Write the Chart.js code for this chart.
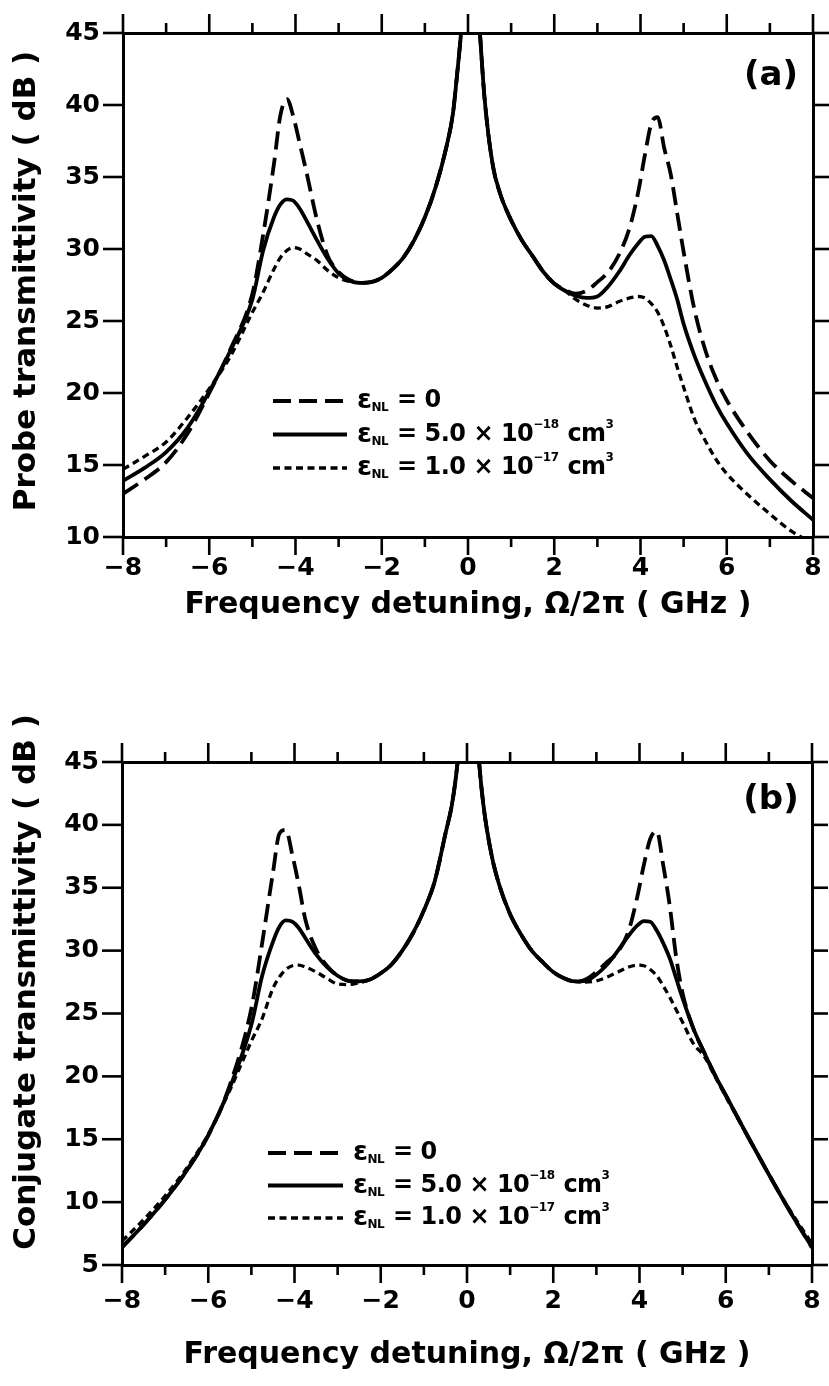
<!DOCTYPE html>
<html>
<head>
<meta charset="utf-8">
<script src="https://cdn.jsdelivr.net/npm/chart.js@4.4.1/dist/chart.umd.min.js"></script>
<style>
  html, body { margin: 0; padding: 0; background: #fff; }
  .panel { position: absolute; left: 0; width: 829px; }
  #wrapA { top: 0; height: 690px; }
  #wrapB { top: 690px; height: 696px; }
  canvas { display: block; }
</style>
</head>
<body>
<div class="panel" id="wrapA"><canvas id="probe" width="829" height="690"></canvas></div>
<div class="panel" id="wrapB"><canvas id="conj" width="829" height="696"></canvas></div>
<script>
// Frequency detuning Ω/2π (GHz) at which every curve is sampled
const detuning = [-8, -7.5, -7, -6.5, -6, -5.5, -5, -4.75, -4.5, -4.35, -4.2, -4.05, -3.9, -3.75, -3.5, -3.25,
  -3, -2.75, -2.5, -2.25, -2, -1.75, -1.5, -1.25, -1, -0.75, -0.5, -0.35, -0.25, -0.15, -0.08, 0.05,
  0.18, 0.27, 0.38, 0.57, 0.75, 1, 1.25, 1.5, 1.75, 2, 2.25, 2.5, 2.75, 3, 3.25, 3.5,
  3.75, 3.95, 4.1, 4.25, 4.4, 4.55, 4.7, 4.85, 5, 5.25, 5.5, 5.75, 6, 6.5, 7, 7.5, 8];

// (a) probe transmittivity, dB
const probeZero = [13.0, 14.0, 15.2, 17.2, 20.0, 23.1, 26.9, 31.0, 35.9, 39.3, 40.4, 39.2, 37.3, 35.4, 32.0, 29.5,
  28.4, 27.85, 27.65, 27.7, 28.0, 28.6, 29.4, 30.6, 32.2, 34.3, 37.1, 39.4, 42.2, 45.5, 49, 55,
  49, 45.3, 40.6, 35.9, 33.8, 32.0, 30.6, 29.5, 28.4, 27.6, 27.15, 26.9, 27.1, 27.7, 28.4, 29.6,
  31.5, 34.0, 36.5, 38.7, 39.15, 37.0, 35.2, 32.5, 29.8, 25.8, 23.0, 21.0, 19.5, 17.2, 15.3, 13.9, 12.7];
const probeMid = [13.9, 14.8, 15.9, 17.6, 20.1, 23.0, 26.5, 29.9, 32.2, 33.1, 33.45, 33.35, 32.8, 32.0, 30.6, 29.3,
  28.3, 27.8, 27.65, 27.7, 28.0, 28.6, 29.4, 30.6, 32.2, 34.3, 37.1, 39.4, 42.2, 45.5, 49, 55,
  49, 45.3, 40.6, 35.9, 33.8, 32.0, 30.6, 29.5, 28.4, 27.6, 27.1, 26.75, 26.6, 26.7, 27.4, 28.4,
  29.6, 30.4, 30.85, 30.9, 30.2, 29.2, 27.9, 26.5, 24.8, 22.6, 20.8, 19.2, 17.9, 15.7, 14.0, 12.5, 11.2];
const probeHigh = [14.7, 15.6, 16.6, 18.3, 20.3, 22.6, 25.6, 27.0, 28.6, 29.4, 29.9, 30.1, 30.0, 29.7, 29.2, 28.5,
  28.0, 27.75, 27.65, 27.7, 28.0, 28.6, 29.4, 30.6, 32.2, 34.3, 37.1, 39.4, 42.2, 45.5, 49, 55,
  49, 45.3, 40.6, 35.9, 33.8, 32.0, 30.6, 29.5, 28.4, 27.6, 27.1, 26.5, 26.1, 25.9, 26.0, 26.35,
  26.6, 26.7, 26.6, 26.2, 25.6, 24.6, 23.3, 21.8, 20.4, 18.2, 16.7, 15.4, 14.4, 12.9, 11.6, 10.4, 9.6];

// (b) conjugate transmittivity, dB
const conjZero = [6.4, 8.2, 10.2, 12.5, 15.3, 19.3, 25.4, 30.6, 36.2, 39.3, 39.6, 37.6, 35.2, 32.5, 30.1, 28.8,
  28.0, 27.6, 27.55, 27.7, 28.2, 28.9, 30.0, 31.4, 33.2, 35.5, 39.3, 41.6, 44.0, 47.5, 51, 57,
  51, 45.5, 41.6, 37.6, 35.2, 32.9, 31.3, 30.0, 29.1, 28.3, 27.8, 27.55, 27.7, 28.3, 29.1, 29.9,
  31.6, 34.3, 36.8, 38.9, 39.5, 36.8, 33.6, 29.5, 26.6, 23.8, 21.9, 20.1, 18.5, 15.3, 12.2, 9.2, 6.4];
const conjMid = [6.4, 8.2, 10.2, 12.5, 15.3, 19.1, 24.1, 28.0, 30.7, 31.9, 32.4, 32.3, 31.8, 31.0, 29.7, 28.7,
  28.0, 27.6, 27.55, 27.7, 28.2, 28.9, 30.0, 31.4, 33.2, 35.5, 39.3, 41.6, 44.0, 47.5, 51, 57,
  51, 45.5, 41.6, 37.6, 35.2, 32.9, 31.3, 30.0, 29.1, 28.3, 27.8, 27.55, 27.6, 28.1, 28.9, 30.0,
  31.2, 32.0, 32.35, 32.3, 31.6, 30.6, 29.4, 27.8, 26.2, 23.8, 21.9, 20.1, 18.5, 15.3, 12.2, 9.2, 6.4];
const conjHigh = [6.9, 8.6, 10.5, 12.7, 15.4, 18.9, 22.8, 24.6, 27.0, 27.9, 28.5, 28.8, 28.85, 28.7, 28.3, 27.8,
  27.35, 27.3, 27.45, 27.7, 28.2, 28.9, 30.0, 31.4, 33.2, 35.5, 39.3, 41.6, 44.0, 47.5, 51, 57,
  51, 45.5, 41.6, 37.6, 35.2, 32.9, 31.3, 30.0, 29.1, 28.3, 27.8, 27.55, 27.5, 27.6, 27.9, 28.3,
  28.7, 28.85, 28.8, 28.5, 28.0, 27.2, 26.3, 25.3, 24.3, 22.6, 21.6, 20.0, 18.4, 15.3, 12.2, 9.3, 6.7];

// Axis ranges and tick steps
const xRange = [-8, 8];
const xMajorStep = 2;
const probeRange = [10, 45];
const conjRange = [5, 45];
const yStep = 5;

// Text
const xTitle = 'Frequency detuning, Ω/2π ( GHz )';
const probeTitle = 'Probe transmittivity ( dB )';
const conjTitle = 'Conjugate transmittivity ( dB )';
const legendRows = [
  [['ε', 'greek'], ['NL', 'sub'], [' = 0', 'base']],
  [['ε', 'greek'], ['NL', 'sub'], [' = 5.0 × 10', 'base'], ['−18', 'sup'], [' cm', 'base'], ['3', 'sup']],
  [['ε', 'greek'], ['NL', 'sub'], [' = 1.0 × 10', 'base'], ['−17', 'sup'], [' cm', 'base'], ['3', 'sup']]
];

const FONT = "'DejaVu Sans', sans-serif";
const INK = '#000';

const styles = [
  { borderWidth: 3.8, borderDash: [18, 8] },
  { borderWidth: 3.8, borderDash: [] },
  { borderWidth: 3.3, borderDash: [7, 4.5] }
];

const fmtTick = v => (v < 0 ? '\u2212' + Math.abs(v) : String(v));

// Outward tick marks on all four sides of the frame
const frameTicks = {
  id: 'frameTicks',
  afterDraw(chart) {
    const { ctx, chartArea: ca } = chart;
    ctx.save();
    ctx.strokeStyle = INK;
    ctx.lineWidth = 2.6;
    ctx.lineCap = 'butt';
    for (const id of ['x', 'x2', 'y', 'y2']) {
      const s = chart.scales[id];
      for (const t of s.ticks) {
        const p = s.getPixelForValue(t.value);
        const major = id[0] === 'y' || Math.abs(t.value % xMajorStep) < 1e-9;
        ctx.beginPath();
        if (s.position === 'bottom') {
          const len = major ? 18 : 10;
          ctx.moveTo(p, ca.bottom); ctx.lineTo(p, ca.bottom + len);
        } else if (s.position === 'top') {
          const len = major ? 19 : 10;
          ctx.moveTo(p, ca.top); ctx.lineTo(p, ca.top - len);
        } else if (s.position === 'left') {
          ctx.moveTo(ca.left, p); ctx.lineTo(ca.left - 20, p);
        } else {
          ctx.moveTo(ca.right, p); ctx.lineTo(ca.right + 16, p);
        }
        ctx.stroke();
      }
    }
    ctx.restore();
  }
};

const runStyle = {
  greek: { size: 27, dy: 0 },
  base: { size: 24, dy: 0 },
  sub: { size: 12, dy: 7 },
  sup: { size: 12, dy: -10 }
};

function drawRuns(ctx, runs, x, y) {
  for (const [text, kind] of runs) {
    const st = runStyle[kind];
    ctx.font = `bold ${st.size}px ${FONT}`;
    ctx.fillText(text, x, y + st.dy);
    x += ctx.measureText(text).width + (kind === 'sub' || kind === 'sup' ? 1 : 0);
  }
}

// Y title, panel tag and legend
const panelNotes = {
  id: 'panelNotes',
  afterDraw(chart, args, o) {
    const { ctx } = chart;
    ctx.save();
    ctx.fillStyle = INK;
    ctx.strokeStyle = INK;

    ctx.save();
    ctx.translate(o.titleX, o.titleY);
    ctx.rotate(-Math.PI / 2);
    ctx.font = `bold 31px ${FONT}`;
    ctx.textAlign = 'center';
    ctx.textBaseline = 'middle';
    ctx.fillText(o.title, 0, 0);
    ctx.restore();

    ctx.font = `bold 34px ${FONT}`;
    ctx.textAlign = 'center';
    ctx.textBaseline = 'middle';
    ctx.fillText(o.tag, o.tagX, o.tagY);

    ctx.textAlign = 'left';
    ctx.textBaseline = 'middle';
    if ('letterSpacing' in ctx) ctx.letterSpacing = '-0.5px';
    chart.data.datasets.forEach((ds, i) => {
      const y = o.legendY + i * o.legendGap;
      ctx.save();
      ctx.lineWidth = ds.borderWidth;
      ctx.setLineDash(ds.borderDash || []);
      ctx.beginPath();
      ctx.moveTo(o.legendX, y);
      ctx.lineTo(o.legendX + o.sampleLen, y);
      ctx.stroke();
      ctx.restore();
      drawRuns(ctx, legendRows[i], o.legendX + o.sampleLen + 10, y);
    });
    ctx.restore();
  }
};

function makePanel(canvasId, series, yRange, frame, notes) {
  const tickFont = { family: FONT, size: 25, weight: 'bold' };
  const border = { display: true, color: INK, width: 3 };
  const hidden = { display: false };
  return new Chart(document.getElementById(canvasId), {
    type: 'line',
    data: {
      datasets: series.map((vals, i) => ({
        data: detuning.map((x, k) => ({ x, y: vals[k] })),
        borderColor: INK,
        borderWidth: styles[i].borderWidth,
        borderDash: styles[i].borderDash,
        pointRadius: 0,
        fill: false,
        cubicInterpolationMode: 'monotone'
      }))
    },
    options: {
      responsive: false,
      animation: false,
      events: [],
      layout: { padding: 0 },
      plugins: { legend: hidden, tooltip: { enabled: false }, panelNotes: notes },
      scales: {
        x: {
          type: 'linear', position: 'bottom', min: xRange[0], max: xRange[1],
          grid: { display: false, drawTicks: true, tickLength: frame.xTickGap },
          border,
          ticks: {
            stepSize: 1, autoSkip: false, maxRotation: 0, padding: frame.xLabelPad,
            color: INK, font: tickFont,
            callback: v => (v % xMajorStep === 0 ? fmtTick(v) : '')
          },
          title: {
            display: true, text: xTitle, color: INK,
            font: { family: FONT, size: 30, weight: 'bold' },
            padding: { top: 0, bottom: frame.xTitlePad }
          },
          afterFit: s => { s.height = frame.bottom; }
        },
        x2: {
          type: 'linear', position: 'top', min: xRange[0], max: xRange[1],
          grid: { display: false }, border,
          ticks: { stepSize: 1, display: false },
          afterFit: s => { s.height = frame.top; }
        },
        y: {
          type: 'linear', position: 'left', min: yRange[0], max: yRange[1],
          grid: { display: false, drawTicks: true, tickLength: 20 },
          border,
          ticks: { stepSize: yStep, padding: 3, color: INK, font: tickFont, callback: fmtTick },
          afterFit: s => { s.width = frame.left; }
        },
        y2: {
          type: 'linear', position: 'right', min: yRange[0], max: yRange[1],
          grid: { display: false }, border,
          ticks: { stepSize: yStep, display: false },
          afterFit: s => { s.width = frame.right; }
        }
      }
    },
    plugins: [frameTicks, panelNotes]
  });
}

makePanel('probe', [probeZero, probeMid, probeHigh], probeRange,
  { left: 123, right: 16, top: 33, bottom: 153, xTickGap: 14, xLabelPad: 2, xTitlePad: 67 },
  { title: probeTitle, titleX: 27, titleY: 281, tag: '(a)', tagX: 771, tagY: 76,
    legendX: 273, legendY: 401, legendGap: 33.5, sampleLen: 74 });

makePanel('conj', [conjZero, conjMid, conjHigh], conjRange,
  { left: 122, right: 17, top: 72, bottom: 121, xTickGap: 18, xLabelPad: 3, xTitlePad: 13 },
  { title: conjTitle, titleX: 27, titleY: 292, tag: '(b)', tagX: 771, tagY: 110,
    legendX: 268, legendY: 463, legendGap: 32.5, sampleLen: 75 });
</script>
</body>
</html>
